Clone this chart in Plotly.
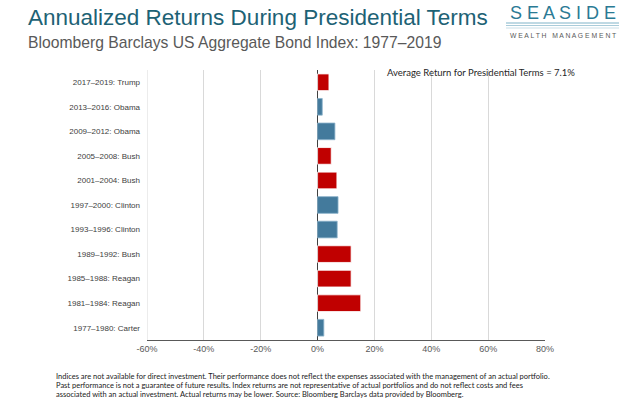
import plotly.graph_objects as go

categories = ["1977–1980: Carter", "1981–1984: Reagan", "1985–1988: Reagan", "1989–1992: Bush",
              "1993–1996: Clinton", "1997–2000: Clinton", "2001–2004: Bush", "2005–2008: Bush",
              "2009–2012: Obama", "2013–2016: Obama", "2017–2019: Trump"]
returns = [2.2, 15.2, 11.8, 11.8, 6.9, 7.2, 6.8, 4.8, 6.1, 1.65, 4.0]
party = ["D", "R", "R", "R", "D", "D", "R", "R", "D", "D", "R"]
tick_vals = [-60, -40, -20, 0, 20, 40, 60, 80]
tick_text = ["-60%", "-40%", "-20%", "0%", "20%", "40%", "60%", "80%"]
average_return = 7.1
footnote_lines = [
    "Indices are not available for direct investment. Their performance does not reflect the expenses associated with the management of an actual portfolio.",
    "Past performance is not a guarantee of future results. Index returns are not representative of actual portfolios and do not reflect costs and fees",
    "associated with an actual investment. Actual returns may be lower. Source: Bloomberg Barclays data provided by Bloomberg.",
]

RED = "#C00000"
BLUE = "#437A9C"
colors = [RED if p == "R" else BLUE for p in party]
lines = ["#FFFFFF" if p == "R" else "#8DB4CC" for p in party]

L, R, T, B = 147, 79, 70, 67
PW, PH = 624 - L - R, 407 - T - B


def px(x):
    return (x - L) / PW


def py(y):
    return 1 - (y - T) / PH


fig = go.Figure()
fig.add_trace(go.Bar(
    y=categories, x=returns, orientation="h",
    marker=dict(color=colors, line=dict(color=lines, width=0.8)),
    width=0.68, showlegend=False, hoverinfo="x+y"))

fig.update_layout(
    width=624, height=407,
    margin=dict(l=L, r=R, t=T, b=B),
    paper_bgcolor="white", plot_bgcolor="white",
    font=dict(family="Arial", color="#404040"),
    xaxis=dict(range=[-60, 80], tickvals=tick_vals, ticktext=tick_text,
               showgrid=True, gridcolor="#D9D9D9", gridwidth=1,
               zeroline=True, zerolinecolor="#404040", zerolinewidth=1.2,
               showline=True, linecolor="#595959", linewidth=1.2,
               tickfont=dict(size=9, color="#595959", family="Arial"),
               ticks="", fixedrange=True),
    yaxis=dict(categoryorder="array", categoryarray=categories,
               tickfont=dict(size=8, color="#404040", family="Arial"),
               showgrid=False, showline=False, ticks="", ticklen=0,
               ticklabelstandoff=6,
               automargin=False, fixedrange=True),
)

# light left border of the plot at -60
fig.add_shape(type="line", xref="x", yref="paper", x0=-60, x1=-60, y0=0, y1=1,
              line=dict(color="#D9D9D9", width=1))

fig.add_annotation(text=f"Average Return for Presidential Terms = {average_return}%",
                   xref="paper", yref="paper", x=px(385), y=py(72), xanchor="left", yanchor="middle",
                   showarrow=False, font=dict(family="Lato", size=9.5, color="#262626"))

# Titles
fig.add_annotation(text="Annualized Returns During Presidential Terms",
                   xref="paper", yref="paper", x=px(26), y=py(18),
                   xanchor="left", yanchor="middle", showarrow=False,
                   font=dict(family="Arial", size=22.5, color="#1D6275"))
fig.add_annotation(text="Bloomberg Barclays US Aggregate Bond Index: 1977–2019",
                   xref="paper", yref="paper", x=px(26), y=py(42),
                   xanchor="left", yanchor="middle", showarrow=False,
                   font=dict(family="Arial", size=15.7, color="#595959"))

# Logo
fig.add_annotation(text="S E A S I D E", xref="paper", yref="paper",
                   x=px(562.5), y=py(13), xanchor="center", yanchor="middle",
                   showarrow=False, font=dict(family="Arial", size=18, color="#2A7A94"))
fig.add_annotation(text="W E A L T H   M A N A G E M E N T", xref="paper", yref="paper",
                   x=px(562.5), y=py(35), xanchor="center", yanchor="middle",
                   showarrow=False, font=dict(family="Arial", size=6.8, color="#595959"))
for yy, col in [(23, "#7FB3C8"), (25.5, "#A9CCDA"), (28, "#C9DFE8")]:
    fig.add_shape(type="line", xref="paper", yref="paper",
                  x0=px(506), x1=px(619), y0=py(yy), y1=py(yy),
                  line=dict(color=col, width=1))

# Footnote
for i, line in enumerate(footnote_lines):
    fig.add_annotation(text=line, xref="paper", yref="paper", x=px(54), y=py(376 + 9 * i),
                       xanchor="left", yanchor="middle", align="left", showarrow=False,
                       font=dict(family="Lato", size=7.5, color="#1A1A1A"))

fig.write_html("out.html", config={"displayModeBar": False},
               post_script="document.body.style.margin='0';document.body.style.padding='0';")
